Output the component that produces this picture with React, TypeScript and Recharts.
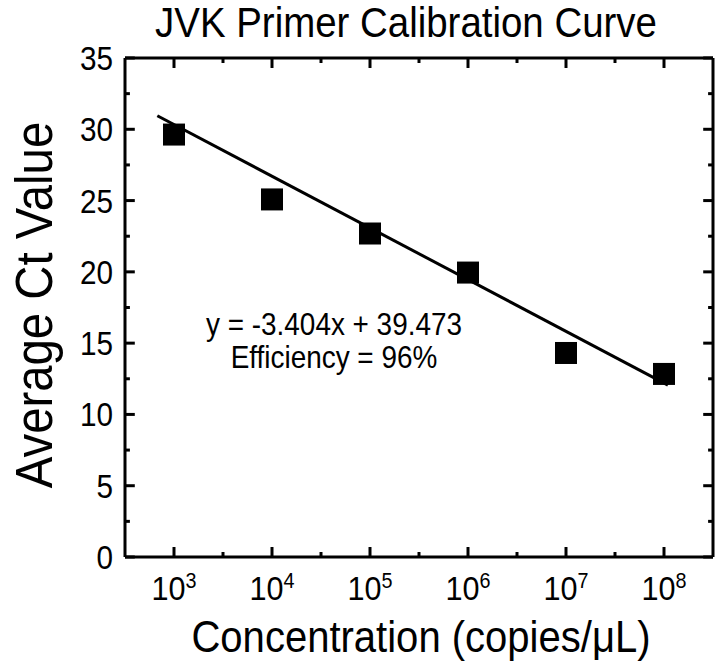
import React from "react";
import { ScatterChart, Scatter, XAxis, YAxis, ReferenceLine } from "recharts";

// log10 of concentration (copies/uL)
const exponents = [3, 4, 5, 6, 7, 8];
const ctValues = [29.63, 25.08, 22.69, 19.95, 14.31, 12.84];

// fitted line as drawn in the figure (end points)
const fitX = [2.83, 8.04];
const fitY = [30.95, 12.06];

const xTicks = [3, 3.5, 4, 4.5, 5, 5.5, 6, 6.5, 7, 7.5, 8];
const yTicks = [0, 2.5, 5, 7.5, 10, 12.5, 15, 17.5, 20, 22.5, 25, 27.5, 30, 32.5, 35];

const points = exponents.map((e, i) => ({ x: e, y: ctValues[i] }));
const fitLine = fitX.map((x, i) => ({ x, y: fitY[i] }));

const X0 = 2.5;
const X1 = 8.5;
const Y0 = 0;
const Y1 = 35;
// inward tick lengths in data units (about 10px major / 5px minor)
const xTickLen = (v: number) => (Number.isInteger(v) ? 0.7 : 0.35);
const yTickLen = (v: number) => (v % 5 === 0 ? 0.1 : 0.05);

const FONT = "'Liberation Sans', Arial, sans-serif";
const ink = { stroke: "#000", strokeWidth: 3 };

const XLabel = (props: any) => {
	const { x, y, payload } = props;
	if (!Number.isInteger(payload.value)) return <g />;
	return (
		<text
			transform={`translate(${x},${y + 43}) scale(0.9,1)`}
			textAnchor="middle"
			fontSize={34}
			fontFamily={FONT}
			fill="#000"
		>
			10
			<tspan dy={-12} fontSize={22}>
				{payload.value}
			</tspan>
		</text>
	);
};

const YLabel = (props: any) => {
	const { x, y, payload } = props;
	if (payload.value % 5 !== 0) return <g />;
	return (
		<text
			transform={`translate(${x - 12},${y + 12}) scale(0.9,1)`}
			textAnchor="end"
			fontSize={33}
			fontFamily={FONT}
			fill="#000"
		>
			{payload.value}
		</text>
	);
};

const Square = (props: any) => {
	const { cx, cy } = props;
	return <rect x={cx - 11} y={cy - 11} width={22} height={22} fill="#000" />;
};

const Nothing = () => <g />;

export default function App() {
	return (
		<div style={{ position: "absolute", left: 0, top: 0, width: 715, height: 665 }}>
			<ScatterChart
				width={715}
				height={665}
				margin={{ top: 58, right: 2, bottom: 107, left: 124 }}
			>
				<XAxis
					type="number"
					dataKey="x"
					domain={[X0, X1]}
					ticks={xTicks}
					height={1}
					tickSize={0}
					tickMargin={0}
					tickLine={false}
					axisLine={false}
					interval={0}
					tick={(p: any) => <XLabel {...p} />}
				/>
				<YAxis
					type="number"
					dataKey="y"
					domain={[Y0, Y1]}
					ticks={yTicks}
					width={1}
					tickSize={0}
					tickMargin={0}
					tickLine={false}
					axisLine={false}
					interval={0}
					tick={(p: any) => <YLabel {...p} />}
				/>
				<ReferenceLine x={X0} {...ink} ifOverflow="visible" />
				<ReferenceLine x={X1} {...ink} ifOverflow="visible" />
				<ReferenceLine y={Y0} {...ink} ifOverflow="visible" />
				<ReferenceLine y={Y1} {...ink} ifOverflow="visible" />
				{xTicks.map((v) => (
					<ReferenceLine
						key={`xb-${v}`}
						segment={[{ x: v, y: Y0 }, { x: v, y: Y0 + xTickLen(v) }]}
						{...ink}
						ifOverflow="visible"
					/>
				))}
				{xTicks.map((v) => (
					<ReferenceLine
						key={`xt-${v}`}
						segment={[{ x: v, y: Y1 }, { x: v, y: Y1 - xTickLen(v) }]}
						{...ink}
						ifOverflow="visible"
					/>
				))}
				{yTicks.map((v) => (
					<ReferenceLine
						key={`yl-${v}`}
						segment={[{ x: X0, y: v }, { x: X0 + yTickLen(v), y: v }]}
						{...ink}
						ifOverflow="visible"
					/>
				))}
				{yTicks.map((v) => (
					<ReferenceLine
						key={`yr-${v}`}
						segment={[{ x: X1, y: v }, { x: X1 - yTickLen(v), y: v }]}
						{...ink}
						ifOverflow="visible"
					/>
				))}
				<Scatter data={points} shape={<Square />} isAnimationActive={false} />
				<Scatter
					data={fitLine}
					line={{ stroke: "#000", strokeWidth: 3 }}
					shape={<Nothing />}
					isAnimationActive={false}
				/>
			</ScatterChart>
			<svg
				width={715}
				height={665}
				style={{ position: "absolute", left: 0, top: 0, pointerEvents: "none" }}
				fontFamily={FONT}
			>
				<text transform="translate(406,37) scale(0.915,1)" textAnchor="middle" fontSize={42} fill="#000">
					JVK Primer Calibration Curve
				</text>
				<text transform="translate(421,652) scale(0.91,1)" textAnchor="middle" fontSize={44} fill="#000">
					Concentration (copies/μL)
				</text>
				<text transform="translate(52,305) rotate(-90) scale(0.91,1)" textAnchor="middle" fontSize={52} fill="#000">
					Average Ct Value
				</text>
				<text transform="translate(334,335) scale(0.9,1)" textAnchor="middle" fontSize={31} fill="#000">
					y = -3.404x + 39.473
				</text>
				<text transform="translate(334,368) scale(0.9,1)" textAnchor="middle" fontSize={31} fill="#000">
					Efficiency = 96%
				</text>
			</svg>
		</div>
	);
}
